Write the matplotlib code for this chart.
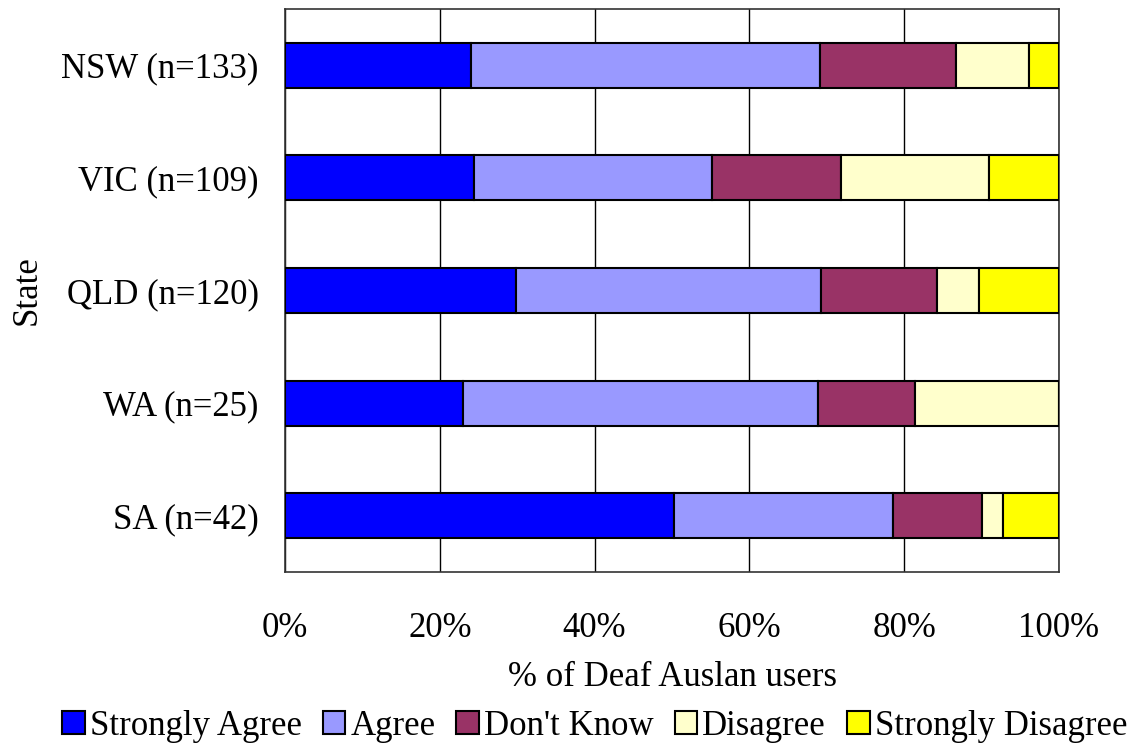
import matplotlib
matplotlib.use('Agg')
import matplotlib.pyplot as plt
import numpy as np

plt.rcParams['font.family'] = ['Liberation Serif', 'DejaVu Serif']

states = ['NSW (n=133)', 'VIC (n=109)', 'QLD (n=120)', 'WA (n=25)', 'SA (n=42)']
categories = ['Strongly Agree', 'Agree', "Don't Know", 'Disagree', 'Strongly Disagree']
colors = ['#0000FF', '#9999FF', '#993366', '#FFFFCC', '#FFFF00']

strongly_agree = [24.0, 24.4, 29.8, 23.0, 50.2]
agree = [45.1, 30.8, 39.4, 45.8, 28.4]
dont_know = [17.6, 16.6, 15.0, 12.6, 11.5]
disagree = [9.4, 19.2, 5.5, 18.6, 2.6]
strongly_disagree = [3.9, 9.0, 10.3, 0.0, 7.3]

series = [strongly_agree, agree, dont_know, disagree, strongly_disagree]

fig = plt.figure(figsize=(11.37, 7.47), dpi=100)
ax = fig.add_axes([0.2507, 0.2343, 0.6807, 0.7537])

y = np.arange(len(states))[::-1]
left = np.zeros(len(states))
for cat, vals, col in zip(categories, series, colors):
    vals = np.array(vals)
    ax.barh(y, vals, left=left, height=0.4, color=col, edgecolor='black',
            linewidth=1.5, label=cat, zorder=3)
    left += vals

ax.set_xlim(0, 100)
ax.set_ylim(-0.5, 4.5)
ax.set_xticks([0, 20, 40, 60, 80, 100])
ax.set_xticklabels(['0%', '20%', '40%', '60%', '80%', '100%'])
ax.set_yticks(y)
ax.set_yticklabels(states)
ax.tick_params(axis='x', length=0, pad=29, labelsize=25)
ax.tick_params(axis='y', length=0, pad=19, labelsize=25)
ax.grid(axis='x', color='black', linewidth=1, zorder=0)
for s in ax.spines.values():
    s.set_color('#333333')
    s.set_linewidth(1.2)

ax.set_xlabel('% of Deaf Auslan users', fontsize=25, labelpad=11)
ax.set_ylabel('State', fontsize=25, labelpad=13)

fig.legend(loc='lower center', bbox_to_anchor=(0.523, -0.022), ncol=5,
           frameon=False, fontsize=25, handlelength=0.65, handleheight=0.65,
           handletextpad=0.15, columnspacing=0.6, borderaxespad=0.2)

plt.savefig('out.png', dpi=100)
plt.close()
